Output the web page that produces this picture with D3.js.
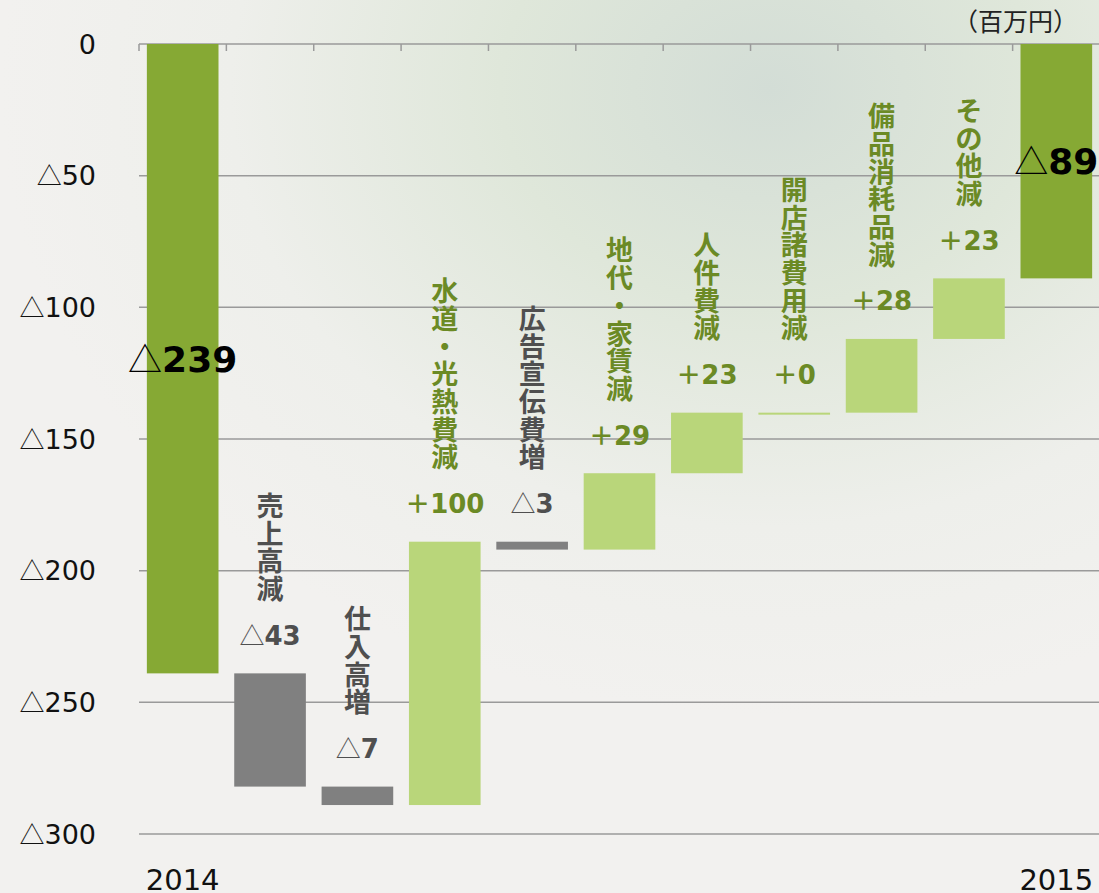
<!DOCTYPE html>
<html>
<head>
<meta charset="utf-8">
<script src="https://cdn.jsdelivr.net/npm/d3@7"></script>
<style>
  body { margin: 0; background: #f1f0ee; }
  svg { display: block; }
</style>
</head>
<body>
<svg id="chart"></svg>
<script>
const width = 1099;
const height = 893;

// waterfall data (百万円)
const categories = ["2014", "売上高減", "仕入高増", "水道・光熱費減", "広告宣伝費増", "地代・家賃減",
    "人件費減", "開店諸費用減", "備品消耗品減", "その他減", "2015"];
const changes = [-239, -43, -7, 100, -3, 29, 23, 0, 28, 23, -89];
const kinds = ["total", "down", "down", "up", "down", "up", "up", "up", "up", "up", "total"];
const yTicks = [0, -50, -100, -150, -200, -250, -300];
const xLabels = ["2014", "2015"];

const fillColor = { total: "#86a934", down: "#808080", up: "#b9d67a" };
const textColor = { down: "#4f4f4f", up: "#6b8a25" };
const latin = "DejaVu Sans, sans-serif";
const cjk = "Noto Sans CJK JP, sans-serif";

const svg = d3.select("#chart")
    .attr("width", width)
    .attr("height", height);

// soft background
const defs = svg.append("defs");
const bg = defs.append("radialGradient")
    .attr("id", "bg")
    .attr("cx", 0.7).attr("cy", 0.1).attr("r", 0.7);
bg.append("stop").attr("offset", "0%").attr("stop-color", "#d3ddd6");
bg.append("stop").attr("offset", "35%").attr("stop-color", "#dfe7da");
bg.append("stop").attr("offset", "70%").attr("stop-color", "#eeefeb");
bg.append("stop").attr("offset", "100%").attr("stop-color", "#f2f1ef");
svg.append("rect")
    .attr("width", width)
    .attr("height", height)
    .attr("fill", "url(#bg)");

// running totals
let running = 0;
const steps = categories.map((name, i) => {
    let start, end;
    if (kinds[i] === "total") {
        start = 0;
        end = changes[i];
        running = changes[i];
    } else {
        start = running;
        end = running + changes[i];
        running = end;
    }
    return { name, value: changes[i], kind: kinds[i], start, end };
});

const x = d3.scaleBand()
    .domain(categories)
    .range([139, 1100])
    .paddingInner(0.18)
    .paddingOuter(0.09);

const y = d3.scaleLinear()
    .domain([0, -300])
    .range([44, 834]);

// grid lines
svg.append("g")
    .selectAll("line")
    .data(yTicks)
    .join("line")
    .attr("x1", 139)
    .attr("x2", width)
    .attr("y1", d => y(d))
    .attr("y2", d => y(d))
    .attr("stroke", "#9a9a9a")
    .attr("stroke-width", 1.5);

// tick marks on the zero line
const step = x.step();
svg.append("g")
    .selectAll("line")
    .data(d3.range(categories.length + 1))
    .join("line")
    .attr("x1", i => 139 + i * step)
    .attr("x2", i => 139 + i * step)
    .attr("y1", y(0))
    .attr("y2", y(0) + 7)
    .attr("stroke", "#9a9a9a")
    .attr("stroke-width", 1.5);

// y labels
const yText = svg.append("g")
    .selectAll("text")
    .data(yTicks)
    .join("text")
    .attr("x", 96)
    .attr("y", d => y(d))
    .attr("dy", "0.36em")
    .attr("text-anchor", "end")
    .attr("font-family", latin)
    .attr("font-size", 27)
    .attr("fill", "#111");
yText.append("tspan")
    .attr("font-family", cjk)
    .attr("font-size", 25)
    .text(d => d === 0 ? "" : "△");
yText.append("tspan").text(d => Math.abs(d));

// unit
svg.append("text")
    .attr("x", 1078)
    .attr("y", 22)
    .attr("dy", "0.36em")
    .attr("text-anchor", "end")
    .attr("font-family", cjk)
    .attr("font-size", 25)
    .attr("fill", "#222")
    .text("（百万円）");

// bars
svg.append("g")
    .selectAll("rect")
    .data(steps)
    .join("rect")
    .attr("x", d => x(d.name))
    .attr("width", x.bandwidth())
    .attr("y", d => Math.min(y(d.start), y(d.end)))
    .attr("height", d => Math.max(2, Math.abs(y(d.end) - y(d.start))))
    .attr("fill", d => fillColor[d.kind]);

// total labels
const totals = steps.filter(d => d.kind === "total");
const totalText = svg.append("g")
    .selectAll("text")
    .data(totals)
    .join("text")
    .attr("x", d => x(d.name) + x.bandwidth() / 2)
    .attr("y", d => y((d.start + d.end) / 2))
    .attr("dy", "0.36em")
    .attr("text-anchor", "middle")
    .attr("font-family", latin)
    .attr("font-size", 36)
    .attr("fill", "#000");
totalText.append("tspan")
    .attr("font-family", cjk)
    .attr("font-size", 34)
    .attr("font-weight", "normal")
    .text("△");
totalText.append("tspan").attr("font-weight", "bold").text(d => Math.abs(d.value));

// step labels: value and vertical category name
const moves = steps.filter(d => d.kind !== "total");
const labelG = svg.append("g")
    .selectAll("g")
    .data(moves)
    .join("g")
    .attr("transform", d => {
        const top = Math.min(y(d.start), y(d.end));
        return `translate(${x(d.name) + x.bandwidth() / 2},${top - 38})`;
    })
    .attr("fill", d => textColor[d.kind]);

const valueText = labelG.append("text")
    .attr("text-anchor", "middle")
    .attr("dy", "0.36em")
    .attr("font-family", latin)
    .attr("font-size", 26)
    .attr("font-weight", "bold");
valueText.append("tspan")
    .attr("font-weight", d => d.value < 0 ? "normal" : "bold")
    .attr("font-family", cjk)
    .attr("font-size", 25)
    .text(d => d.value < 0 ? "△" : "＋");
valueText.append("tspan").text(d => Math.abs(d.value));

labelG.each(function (d) {
    const chars = Array.from(d.name);
    d3.select(this).append("g")
        .selectAll("text")
        .data(chars)
        .join("text")
        .attr("text-anchor", "middle")
        .attr("dy", "0.36em")
        .attr("y", (c, i) => -46 - (chars.length - 1 - i) * 27.7)
        .attr("font-family", cjk)
        .attr("font-size", 27)
        .attr("font-weight", "bold")
        .text(c => c);
});

// year labels
svg.append("g")
    .selectAll("text")
    .data(xLabels)
    .join("text")
    .attr("x", d => x(d) + x.bandwidth() / 2)
    .attr("y", 880)
    .attr("dy", "0.36em")
    .attr("text-anchor", "middle")
    .attr("font-family", latin)
    .attr("font-size", 29)
    .attr("fill", "#111")
    .text(d => d);
</script>
</body>
</html>
